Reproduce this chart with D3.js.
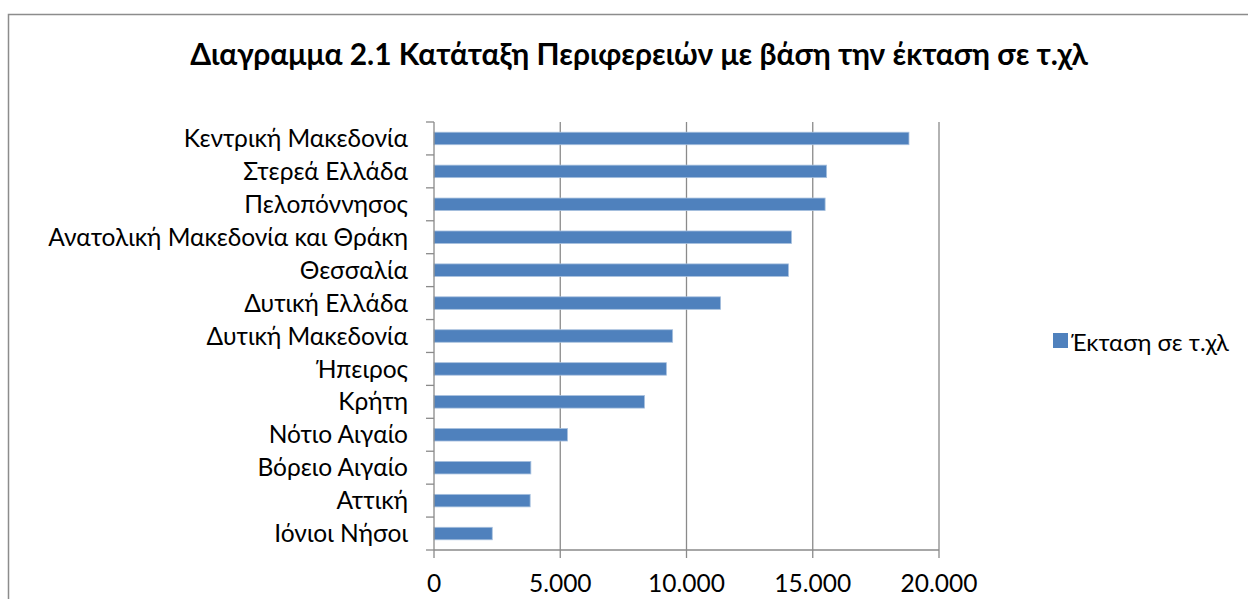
<!DOCTYPE html>
<html>
<head>
<meta charset="utf-8">
<script src="https://cdn.jsdelivr.net/npm/d3@7"></script>
<style>
  body { margin: 0; background: #fff; }
  text { font-family: Lato, "Open Sans", sans-serif; fill: #000; }
</style>
</head>
<body>
<div id="chart"></div>
<script>
'use strict';

// regions and area in sq. km, top to bottom as drawn
const regions = ['Κεντρική Μακεδονία', 'Στερεά Ελλάδα', 'Πελοπόννησος',
  'Ανατολική Μακεδονία και Θράκη', 'Θεσσαλία', 'Δυτική Ελλάδα', 'Δυτική Μακεδονία',
  'Ήπειρος', 'Κρήτη', 'Νότιο Αιγαίο', 'Βόρειο Αιγαίο', 'Αττική', 'Ιόνιοι Νήσοι']
const area = [18811, 15549, 15490, 14157, 14037, 11350, 9451, 9203, 8336, 5286, 3836, 3808, 2307]
const xTicks = [0, 5000, 10000, 15000, 20000]
const xTickLabels = ['0', '5.000', '10.000', '15.000', '20.000']
const title = 'Διαγραμμα 2.1 Κατάταξη Περιφερειών με βάση την έκταση σε τ.χλ'
const seriesName = 'Έκταση σε τ.χλ'

var width = 1248,
    height = 599

var svg = d3.select('#chart').append('svg')
    .attr('width', width)
    .attr('height', height)

// chart frame
svg.append('rect')
    .attr('x', 8.5).attr('y', 14.5)
    .attr('width', 1300).attr('height', 700)
    .attr('fill', 'none')
    .attr('stroke', '#8c8c8c')
    .attr('stroke-width', 1.5)

var plot = { left: 434, right: 939, top: 122, bottom: 550 }

var x = d3.scaleLinear()
    .domain([0, 20000])
    .range([plot.left, plot.right])

var y = d3.scaleBand()
    .domain(regions)
    .range([plot.top, plot.bottom])
    .paddingInner(0.62)
    .paddingOuter(0.31)

var yEdges = d3.scaleBand().domain(regions).range([plot.top, plot.bottom])

// scale a text's font so it fills a target width
function fitWidth(sel, target, size) {
  sel.style('font-size', size + 'px')
  var w = sel.node().getComputedTextLength()
  var s = size * target / w
  sel.style('font-size', s + 'px')
  return s
}

// gridlines
svg.append('g')
  .selectAll('line')
  .data(xTicks.slice(1))
  .join('line')
    .attr('x1', d => x(d)).attr('x2', d => x(d))
    .attr('y1', plot.top).attr('y2', plot.bottom)
    .attr('stroke', '#8a8a8a')
    .attr('stroke-width', 1.3)

// bars
svg.append('g')
  .selectAll('rect')
  .data(area)
  .join('rect')
    .attr('x', x(0))
    .attr('y', (d, i) => y(regions[i]))
    .attr('width', d => x(d) - x(0))
    .attr('height', y.bandwidth())
    .attr('fill', '#4f81bd')
    .attr('stroke', '#a7c0de')
    .attr('stroke-width', 0.8)

// y axis
var yAxis = svg.append('g')
yAxis.append('line')
    .attr('x1', plot.left).attr('x2', plot.left)
    .attr('y1', plot.top).attr('y2', plot.bottom)
    .attr('stroke', '#8a8a8a').attr('stroke-width', 1.3)
yAxis.selectAll('line.tick')
  .data(regions.concat(['__end']))
  .join('line')
    .attr('class', 'tick')
    .attr('x1', plot.left - 8).attr('x2', plot.left)
    .attr('y1', d => d === '__end' ? plot.bottom : yEdges(d))
    .attr('y2', d => d === '__end' ? plot.bottom : yEdges(d))
    .attr('stroke', '#8a8a8a').attr('stroke-width', 1.3)

var labels = yAxis.selectAll('text')
  .data(regions)
  .join('text')
    .attr('x', 408)
    .attr('y', d => y(d) + y.bandwidth() / 2)
    .attr('dy', '0.35em')
    .attr('text-anchor', 'end')
    .text(d => d)
var labelSize = fitWidth(labels.filter(d => d === 'Ανατολική Μακεδονία και Θράκη'), 360, 20)
labels.style('font-size', labelSize + 'px')

// x axis
var xAxis = svg.append('g')
xAxis.append('line')
    .attr('x1', plot.left).attr('x2', plot.right)
    .attr('y1', plot.bottom).attr('y2', plot.bottom)
    .attr('stroke', '#8a8a8a').attr('stroke-width', 1.3)
xAxis.selectAll('line.tick')
  .data(xTicks)
  .join('line')
    .attr('class', 'tick')
    .attr('x1', d => x(d)).attr('x2', d => x(d))
    .attr('y1', plot.bottom).attr('y2', plot.bottom + 8)
    .attr('stroke', '#8a8a8a').attr('stroke-width', 1.3)
xAxis.selectAll('text')
  .data(xTicks)
  .join('text')
    .attr('x', d => x(d))
    .attr('y', 592)
    .attr('text-anchor', 'middle')
    .style('font-size', labelSize + 'px')
    .text((d, i) => xTickLabels[i])

// title
var t = svg.append('text')
    .attr('x', 639)
    .attr('y', 65)
    .attr('text-anchor', 'middle')
    .style('font-weight', 'bold')
    .text(title)
fitWidth(t, 898, 24)

// legend
svg.append('rect')
    .attr('x', 1053).attr('y', 333)
    .attr('width', 15).attr('height', 15)
    .attr('fill', '#4f81bd')
var lt = svg.append('text')
    .attr('x', 1071).attr('y', 351)
    .text(seriesName)
fitWidth(lt, 158, 20)
</script>
</body>
</html>
